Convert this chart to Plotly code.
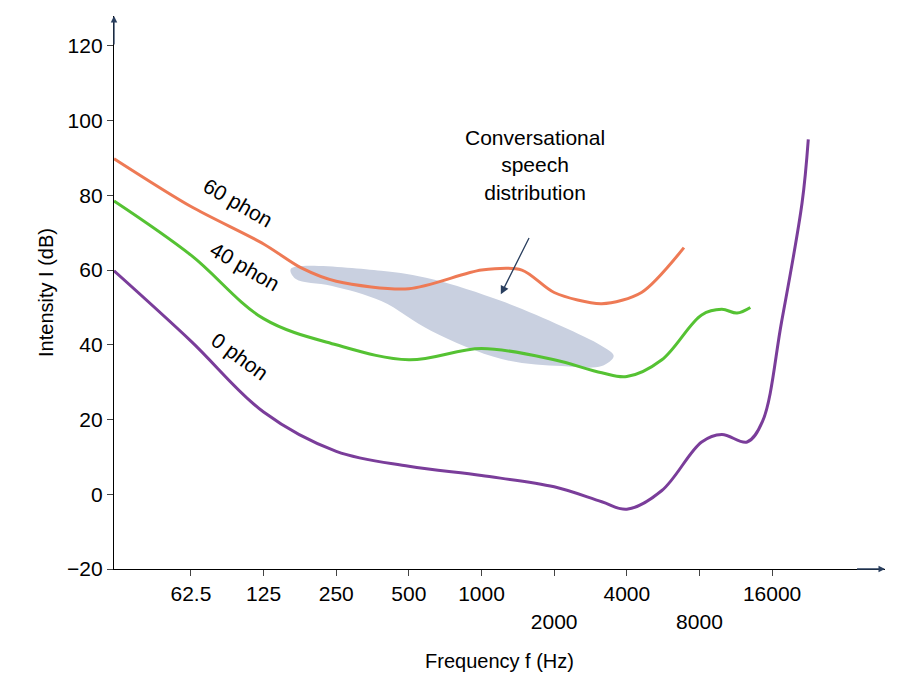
import plotly.graph_objects as go

f0 = [30, 62.5, 125, 250, 500, 1000, 2000, 3150, 4000, 5590, 8170, 9900, 12600, 14600, 17500, 21300, 22600]
db0 = [59.8, 41, 22, 11.5, 7.5, 5, 2, -2, -4, 1, 14, 16, 14, 19.5, 46, 78, 95]
f40 = [30, 62.5, 125, 250, 500, 1000, 2000, 3150, 4000, 5590, 8170, 9900, 11450, 13000]
db40 = [78.5, 64, 47, 40, 36, 39, 36, 32.5, 31.5, 36, 48, 49.5, 48.5, 50]
f60 = [30, 62.5, 125, 180, 250, 500, 1000, 1470, 2000, 3150, 4600, 6900]
db60 = [89.8, 77, 67, 60.5, 57, 55, 60, 60, 54, 51, 54, 66]
speech_f = [162, 384, 620, 1211, 2150, 3150, 3530, 3150, 2150, 1211, 620, 384, 238, 170, 162]
speech_db = [60.3, 59.8, 57.6, 51.7, 45, 39.7, 37, 34.3, 34.3, 36.2, 43.7, 51.7, 55.8, 57.6, 60.3]
tick_vals = [62.5, 125, 250, 500, 1000, 2000, 4000, 8000, 16000]
tick_text = ["62.5", "125", "250", "500", "1000", "<br>2000", "4000", "<br>8000", "16000"]

fig = go.Figure()
fig.add_trace(go.Scatter(x=speech_f, y=speech_db, fill="toself", mode="lines",
                         line=dict(color="#c9d0e0", width=0, shape="spline"), fillcolor="#c9d0e0"))
fig.add_trace(go.Scatter(x=f60, y=db60, mode="lines", line=dict(color="#ee7a55", width=3, shape="spline", smoothing=0.8)))
fig.add_trace(go.Scatter(x=f40, y=db40, mode="lines", line=dict(color="#55c233", width=3, shape="spline")))
fig.add_trace(go.Scatter(x=f0, y=db0, mode="lines", line=dict(color="#7a3d9a", width=3, shape="spline")))

font = "Liberation Sans, Arial, sans-serif"
ann = [
    dict(x=1.99, y=78, text="60 phon", textangle=30),
    dict(x=2.02, y=61, text="40 phon", textangle=30),
    dict(x=2.0, y=37, text="0 phon", textangle=36),
]
for a in ann:
    fig.add_annotation(x=a["x"], y=a["y"], text=a["text"], textangle=a["textangle"], showarrow=False,
                       font=dict(size=21, color="black", family=font))
fig.add_annotation(x=3.22, y=88, text="Conversational<br>speech<br>distribution", showarrow=False,
                   font=dict(size=21, color="black", family=font))
fig.add_annotation(x=3.08, y=53.5, ax=3.2, ay=69, axref="x", ayref="y", showarrow=True,
                   arrowhead=2, arrowsize=1.3, arrowwidth=1.3, text="")
fig.add_annotation(x=4.672, y=-20, ax=4.55, ay=-20, axref="x", ayref="y", showarrow=True,
                   arrowhead=2, arrowwidth=1.3, text="")
fig.add_annotation(x=1.477, y=128, ax=1.477, ay=120, axref="x", ayref="y", showarrow=True,
                   arrowhead=2, arrowwidth=1.3, text="")

fig.update_layout(
    width=900, height=690, plot_bgcolor="white", paper_bgcolor="white", showlegend=False,
    margin=dict(l=106, r=23, t=8, b=129),
    font=dict(family=font, size=21, color="black"),
    xaxis=dict(type="log", range=[1.477, 4.672], tickvals=tick_vals, ticktext=tick_text,
               showgrid=False, showline=True, linecolor="black", linewidth=1.3, automargin=False,
               ticks="outside", ticklen=6, zeroline=False,
               title=dict(text="Frequency f (Hz)", font=dict(size=20), standoff=22)),
    yaxis=dict(range=[-20, 128], tickvals=[-20, 0, 20, 40, 60, 80, 100, 120],
               ticktext=["\u221220", "0", "20", "40", "60", "80", "100", "120"],
               showgrid=False, showline=True, linecolor="black", linewidth=1.3, automargin=False,
               ticks="outside", ticklen=6, zeroline=False,
               title=dict(text="Intensity I (dB)", font=dict(size=20), standoff=8)),
)
fig.write_html("out.html")
